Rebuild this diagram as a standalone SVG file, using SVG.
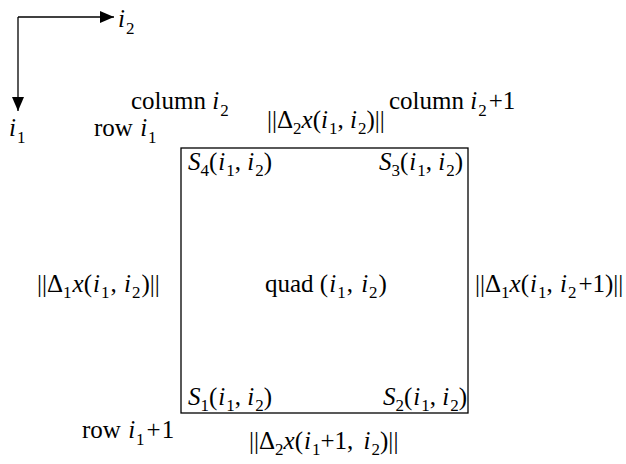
<svg xmlns="http://www.w3.org/2000/svg" width="626" height="464" viewBox="0 0 626 464">
<style>
text{font-family:"Liberation Serif","Times New Roman",serif;font-size:25px;fill:#000}
.i{font-style:italic}
.s{font-size:17px}
.ln{stroke:#000;stroke-width:1.3;fill:none}
</style>
<defs>
<marker id="ah" viewBox="0 0 10 10" refX="10" refY="5" markerWidth="14" markerHeight="12" markerUnits="userSpaceOnUse" orient="auto" preserveAspectRatio="none">
<path d="M0,0 L10,5 L0,10 z" fill="#000"/>
</marker>
</defs>
<g id="connectors">
<path class="ln" d="M18,17 L114,17" marker-end="url(#ah)"/>
<path class="ln" d="M18,17 L18,111" marker-end="url(#ah)"/>
</g>
<g id="axis-labels">
<text x="118" y="27"><tspan class="i">i</tspan><tspan class="s" dy="7" dx="1">2</tspan></text>
<text x="9" y="136"><tspan class="i">i</tspan><tspan class="s" dy="7" dx="1">1</tspan></text>
</g>
<g id="quad">
<rect x="181" y="148" width="287" height="265" class="ln"/>
<text x="265" y="292">quad (<tspan class="i" dx="1">i</tspan><tspan class="s" dy="6" dx="1">1</tspan><tspan dy="-6" dx="1">, </tspan><tspan class="i" dx="2">i</tspan><tspan class="s" dy="6" dx="1">2</tspan><tspan dy="-6" dx="1">)</tspan></text>
</g>
<g id="corner-labels">
<text x="188" y="170"><tspan class="i">S</tspan><tspan class="s" dy="6">4</tspan><tspan dy="-6">(</tspan><tspan class="i" dx="1">i</tspan><tspan class="s" dy="6" dx="1">1</tspan><tspan dy="-6">, </tspan><tspan class="i">i</tspan><tspan class="s" dy="6" dx="1">2</tspan><tspan dy="-6">)</tspan></text>
<text x="379" y="170"><tspan class="i">S</tspan><tspan class="s" dy="6">3</tspan><tspan dy="-6">(</tspan><tspan class="i" dx="1">i</tspan><tspan class="s" dy="6" dx="1">1</tspan><tspan dy="-6">, </tspan><tspan class="i">i</tspan><tspan class="s" dy="6" dx="1">2</tspan><tspan dy="-6">)</tspan></text>
<text x="188" y="405"><tspan class="i">S</tspan><tspan class="s" dy="6">1</tspan><tspan dy="-6">(</tspan><tspan class="i" dx="1">i</tspan><tspan class="s" dy="6" dx="1">1</tspan><tspan dy="-6">, </tspan><tspan class="i">i</tspan><tspan class="s" dy="6" dx="1">2</tspan><tspan dy="-6">)</tspan></text>
<text x="383" y="405"><tspan class="i">S</tspan><tspan class="s" dy="6">2</tspan><tspan dy="-6">(</tspan><tspan class="i" dx="1">i</tspan><tspan class="s" dy="6" dx="1">1</tspan><tspan dy="-6">, </tspan><tspan class="i">i</tspan><tspan class="s" dy="6" dx="1">2</tspan><tspan dy="-6">)</tspan></text>
</g>
<g id="grid-labels">
<text x="131" y="109">column <tspan class="i">i</tspan><tspan class="s" dy="7" dx="1">2</tspan></text>
<text x="389" y="109">column <tspan class="i">i</tspan><tspan class="s" dy="7" dx="1">2</tspan><tspan dy="-7" dx="2">+1</tspan></text>
<text x="94" y="136">row <tspan class="i" dx="1">i</tspan><tspan class="s" dy="7" dx="1">1</tspan></text>
<text x="82" y="438">row <tspan class="i" dx="1">i</tspan><tspan class="s" dy="7" dx="1">1</tspan><tspan dy="-7" dx="2">+</tspan><tspan dx="1">1</tspan></text>
</g>
<g id="edge-labels">
<text x="267" y="128">||Δ<tspan class="s" dy="6">2</tspan><tspan class="i" dy="-6">x</tspan>(<tspan class="i">i</tspan><tspan class="s" dy="6" dx="1">1</tspan><tspan dy="-6">, </tspan><tspan class="i">i</tspan><tspan class="s" dy="6" dx="1">2</tspan><tspan dy="-6">)||</tspan></text>
<text x="37" y="292">||Δ<tspan class="s" dy="6">1</tspan><tspan class="i" dy="-6" dx="1">x</tspan>(<tspan class="i" dx="1">i</tspan><tspan class="s" dy="6" dx="1">1</tspan><tspan dy="-6" dx="1">, </tspan><tspan class="i" dx="1">i</tspan><tspan class="s" dy="6" dx="1">2</tspan><tspan dy="-6" dx="1">)||</tspan></text>
<text x="475" y="292">||Δ<tspan class="s" dy="6">1</tspan><tspan class="i" dy="-6">x</tspan>(<tspan class="i" dx="1">i</tspan><tspan class="s" dy="6" dx="1">1</tspan><tspan dy="-6">, </tspan><tspan class="i" dx="1">i</tspan><tspan class="s" dy="6" dx="1">2</tspan><tspan dy="-6" dx="2">+1)||</tspan></text>
<text x="249" y="449">||Δ<tspan class="s" dy="6">2</tspan><tspan class="i" dy="-6">x</tspan>(<tspan class="i" dx="1">i</tspan><tspan class="s" dy="6" dx="1">1</tspan><tspan dy="-6">+1,  </tspan><tspan class="i" dx="4">i</tspan><tspan class="s" dy="6" dx="1">2</tspan><tspan dy="-6">)||</tspan></text>
</g>
</svg>
